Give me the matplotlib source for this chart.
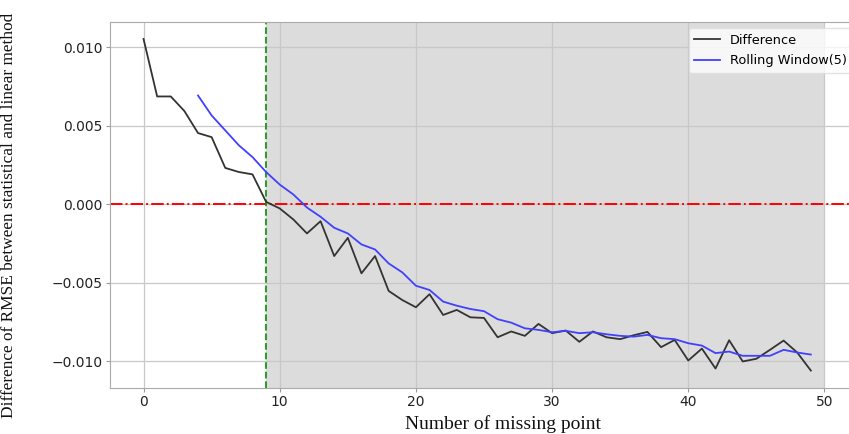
import matplotlib
matplotlib.use("Agg")
import matplotlib.pyplot as plt
import numpy as np

x_missing = list(range(0, 50))
difference = [0.01052, 0.00686, 0.00686, 0.00593, 0.00453, 0.00427, 0.00231, 0.00205, 0.00190, 0.00015,
              -0.00027, -0.00097, -0.00186, -0.00108, -0.00330, -0.00214, -0.00440, -0.00330, -0.00552, -0.00610,
              -0.00656, -0.00573, -0.00705, -0.00673, -0.00720, -0.00724, -0.00847, -0.00810, -0.00838, -0.00762,
              -0.00821, -0.00804, -0.00876, -0.00810, -0.00847, -0.00859, -0.00834, -0.00813, -0.00910, -0.00864,
              -0.00995, -0.00919, -0.01046, -0.00866, -0.01001, -0.00984, -0.00927, -0.00868, -0.00944, -0.01059]
x_rolling = list(range(4, 50))
rolling = [0.00692, 0.00565, 0.00470, 0.00375, 0.00300, 0.00205,
           0.00125, 0.00062, -0.00021, -0.00080, -0.00150, -0.00186, -0.00256, -0.00288, -0.00377, -0.00434,
           -0.00519, -0.00546, -0.00620, -0.00646, -0.00667, -0.00681, -0.00732, -0.00754, -0.00790, -0.00800,
           -0.00815, -0.00806, -0.00821, -0.00815, -0.00828, -0.00838, -0.00843, -0.00832, -0.00853, -0.00859,
           -0.00885, -0.00900, -0.00948, -0.00938, -0.00965, -0.00965, -0.00965, -0.00927, -0.00944, -0.00957]
threshold_x = 9
shade_end = 50

fig = plt.figure(figsize=(8.49, 4.34), dpi=100)
ax = fig.add_axes([109.5 / 849, 1 - 388 / 434, 749 / 849, 366 / 434])

ax.axvspan(threshold_x, shade_end, color='#dcdcdc', zorder=0, lw=0)
ax.grid(True, color='#c8c8c8', lw=0.9, zorder=1)
ax.set_axisbelow(True)
ax.plot(x_missing, difference, color='#333333', lw=1.3, label='Difference', zorder=3)
ax.plot(x_rolling, rolling, color='#4040ff', lw=1.3, label='Rolling Window(5)', zorder=3)
ax.axhline(0, color='red', ls='-.', lw=1.4, zorder=2)
ax.axvline(threshold_x, color='#119911', ls='--', lw=1.3, zorder=2)

ax.set_xlim(-2.5, 52.5)
ax.set_ylim(-0.0117, 0.0116)
ax.set_xticks([0, 10, 20, 30, 40, 50])
ax.set_yticks([-0.010, -0.005, 0.0, 0.005, 0.010])
ax.set_yticklabels(['\u22120.010', '\u22120.005', '0.000', '0.005', '0.010'])
ax.tick_params(labelsize=10, color='#999999', length=3, pad=2, labelcolor='#222222')
for s in ax.spines.values():
    s.set_color('#aaaaaa')

ax.set_xlabel('Number of missing point', family='Liberation Serif', fontsize=14, color='#111111')
ax.xaxis.set_label_coords(0.525, -0.073)
ax.set_ylabel('Difference of RMSE between statistical and linear method', family='Liberation Serif',
              fontsize=12.4, color='#111111')
ax.yaxis.set_label_coords(-0.1235, 0.473)

leg = ax.legend(loc='upper right', fontsize=9.3, frameon=True, fancybox=True, framealpha=0.8,
                edgecolor='#dddddd', labelspacing=0.6)

fig.savefig('out.png', dpi=100)
